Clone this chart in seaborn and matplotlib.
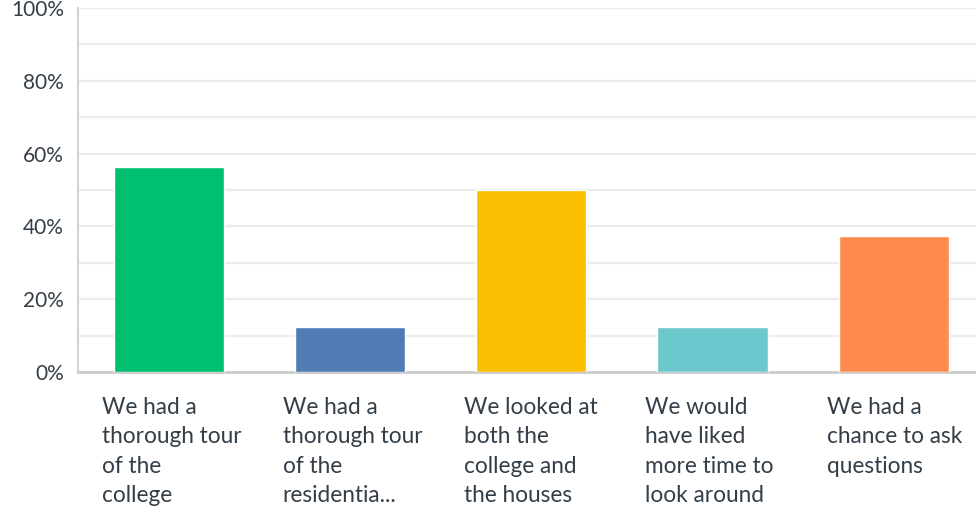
import matplotlib
matplotlib.use("Agg")
import matplotlib.pyplot as plt
import seaborn as sns
import pandas as pd

categories = [
    "We had a\nthorough tour\nof the\ncollege",
    "We had a\nthorough tour\nof the\nresidentia...",
    "We looked at\nboth the\ncollege and\nthe houses",
    "We would\nhave liked\nmore time to\nlook around",
    "We had a\nchance to ask\nquestions",
]
percent = [56.25, 12.5, 50.0, 12.5, 37.5]
colors = ["#00bf6f", "#507cb6", "#f9be00", "#6bc8cd", "#ff8b4f"]

sns.set_style("white")
plt.rcParams["font.family"] = ["Lato", "DejaVu Sans"]
text_color = "#333e48"

df = pd.DataFrame({"answer": categories, "pct": percent})

fig = plt.figure(figsize=(9.76, 5.12), dpi=100)
ax = fig.add_axes([78 / 976, 140 / 512, 1 - 78 / 976, 364 / 512])

sns.barplot(data=df, x="answer", y="pct", hue="answer", palette=colors,
            width=0.608, legend=False, ax=ax, zorder=3, saturation=1)

# category slots are a bit wider than the visible plot area
ax.set_xlim(-0.5, 4.453)
ax.set_ylim(0, 100)
ax.set_yticks(range(0, 101, 20))
ax.set_yticklabels([f"{v}%" for v in range(0, 101, 20)], fontsize=15, color=text_color)
ax.set_yticks(range(10, 100, 20), minor=True)
ax.grid(axis="y", which="both", color="#ececec", linewidth=1.6, zorder=0)
ax.tick_params(axis="y", which="both", length=0, pad=10)
ax.set_xticks([])
ax.set_xlabel("")
ax.set_ylabel("")

for side in ["top", "right"]:
    ax.spines[side].set_visible(False)
ax.spines["left"].set_color("#d4d4d4")
ax.spines["left"].set_linewidth(1.5)
ax.spines["bottom"].set_color("#cccccc")
ax.spines["bottom"].set_linewidth(2)

trans = ax.get_xaxis_transform()
for i, label in enumerate(categories):
    ax.text(i - 0.37, -0.068, label, transform=trans, ha="left", va="top",
            fontsize=16.3, color=text_color, linespacing=1.5)

fig.savefig("out.png", dpi=100)
